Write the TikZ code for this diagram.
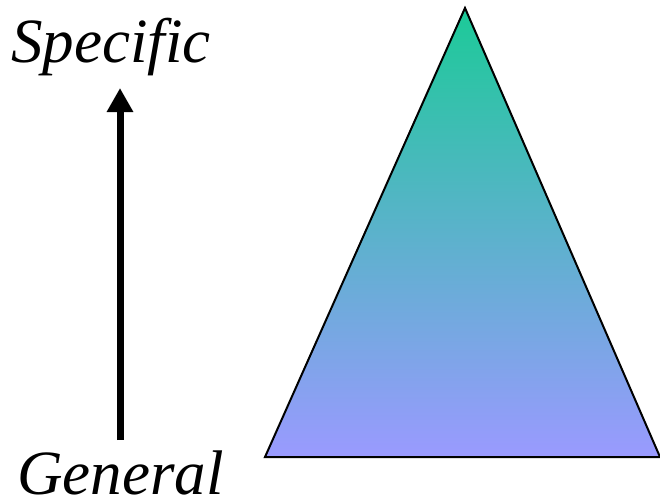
\documentclass[tikz,border=0pt]{standalone}
\usepackage{fontspec}
\setmainfont{Liberation Serif}
\usetikzlibrary{arrows.meta}
\definecolor{topgreen}{HTML}{1CCA98}
\definecolor{botblue}{HTML}{9A9AFF}
\tikzset{
  lbl/.style={font=\fontsize{63}{70}\selectfont\itshape, inner sep=0pt, anchor=base west},
  bigarrow/.style={line width=7pt, -{Triangle[length=24pt,width=25pt]}}
}
\begin{document}
\begin{tikzpicture}[x=1pt,y=-1pt]
\useasboundingbox (0,0) rectangle (660,500);
\node[lbl] (spec) at (11,63) {Specific};
\node[lbl] (gen) at (17,494) {General};
\coordinate (a0) at (120,440);
\coordinate (a1) at (120,88);
\draw[bigarrow] (a0) -- (a1);
\coordinate (apex) at (465,8);
\coordinate (bl) at (265,457);
\coordinate (br) at (660,457);
\draw[line width=2pt, line join=miter, top color=topgreen, bottom color=botblue] (apex) -- (bl) -- (br) -- cycle;
\end{tikzpicture}
\end{document}
